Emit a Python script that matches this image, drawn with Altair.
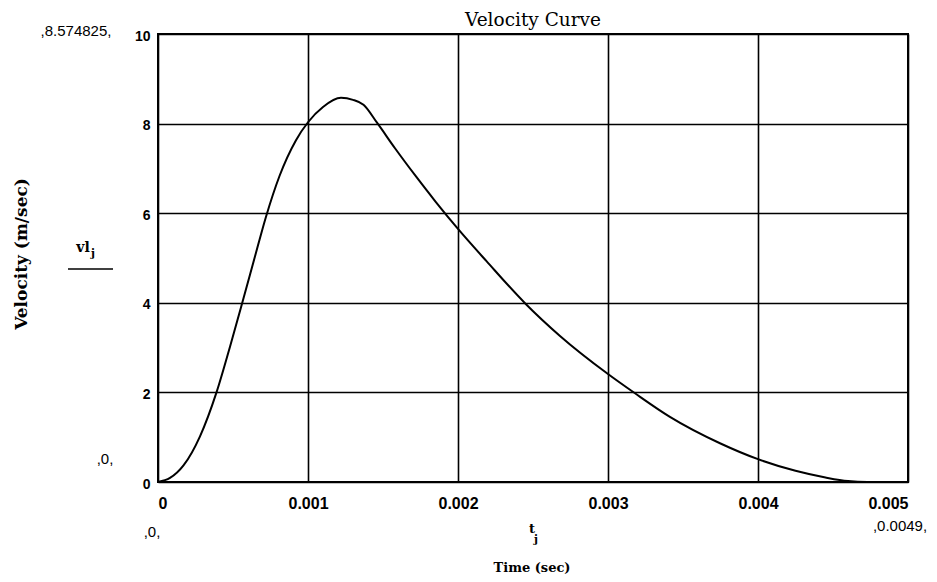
import altair as alt
import pandas as pd

# Data (time in seconds, velocity in m/s)
time_s = [0, 0.00008, 0.00017, 0.00028, 0.00039, 0.00048, 0.00057, 0.00066,
          0.00072, 0.00081, 0.00092, 0.001, 0.0011, 0.00122, 0.0013, 0.00137,
          0.00146, 0.00158, 0.00172, 0.00185, 0.002, 0.00219, 0.00245, 0.00268,
          0.003, 0.00318, 0.00341, 0.00375, 0.004, 0.00425, 0.00445, 0.0046,
          0.00473, 0.0049]
velocity = [0, 0.09, 0.37, 1.02, 2.0, 3.02, 4.1, 5.2,
            5.92, 6.83, 7.63, 8.03, 8.37, 8.574825, 8.53, 8.42,
            8.02, 7.45, 6.82, 6.26, 5.65, 4.93, 3.98, 3.26,
            2.41, 1.98, 1.46, 0.86, 0.51, 0.25, 0.10, 0.02,
            0.0, 0.0]
x_ticks = [0, 0.001, 0.002, 0.003, 0.004, 0.005]
y_ticks = [0, 2, 4, 6, 8, 10]

df = pd.DataFrame({"t": time_s, "v": velocity})

W, H = 750, 448
L, T = 158, 34
SANS = "Liberation Sans"
SERIF = "DejaVu Serif"

line = alt.Chart(df).mark_line(color="black", strokeWidth=2, interpolate="monotone").encode(
    x=alt.X("t:Q", scale=alt.Scale(domain=[0, 0.005], nice=False, zero=False),
            axis=alt.Axis(values=x_ticks, grid=True, ticks=False, domain=False,
                          labelExpr="datum.value == 0 ? '0' : format(datum.value, '.3f')",
                          labelFont=SANS, labelFontWeight="bold", labelFontSize=16,
                          labelColor="black", labelPadding=13, title=None)),
    y=alt.Y("v:Q", scale=alt.Scale(domain=[0, 10], nice=False),
            axis=alt.Axis(values=y_ticks, grid=True, ticks=False, domain=False,
                          labelFont=SANS, labelFontWeight="bold", labelFontSize=14,
                          labelColor="black", labelPadding=8, labelOffset=2,
                          title=None)),
)

one = pd.DataFrame({"a": [0]})


def label(text, x, y, font=SANS, size=13, weight="normal", align="center",
          baseline="middle", angle=0):
    return alt.Chart(one).mark_text(text=text, font=font, fontSize=size, fontWeight=weight,
                                    align=align, baseline=baseline, angle=angle,
                                    color="black").encode(x=alt.value(x - L), y=alt.value(y - T))


texts = [
    label("Velocity Curve", 533, 20, font=SERIF, size=18.5),
    label("Velocity (m/sec)", 22, 254, font=SERIF, size=17, weight="bold", angle=270),
    label("Time (sec)", 532, 568, font=SERIF, size=13, weight="bold"),
    label(",8.574825,", 76, 31, size=15),
    label(",0,", 105, 459, size=15),
    label(",0,", 152, 532, size=15),
    label(",0.0049,", 900, 526, size=15),
    label("vl", 83, 248, font=SERIF, size=14, weight="bold"),
    label("j", 93, 254, font=SERIF, size=11, weight="bold"),
    label("t", 532, 529, font=SERIF, size=13, weight="bold"),
    label("j", 536, 540, font=SERIF, size=11, weight="bold"),
]

vl_rule = alt.Chart(one).mark_rule(color="black", strokeWidth=1.5).encode(
    x=alt.value(68 - L), x2=alt.value(113 - L), y=alt.value(269 - T))

chart = alt.layer(line, *texts, vl_rule).properties(
    width=W, height=H,
    autosize=alt.AutoSizeParams(type="none"),
    padding={"left": L, "top": T, "right": 937 - L - W, "bottom": 582 - T - H},
    background="white",
).configure_view(stroke="black", strokeWidth=2).configure_axis(
    gridColor="black", gridOpacity=1, gridWidth=1.6)

chart.save("out.html", embed_options={"renderer": "svg", "actions": False})
